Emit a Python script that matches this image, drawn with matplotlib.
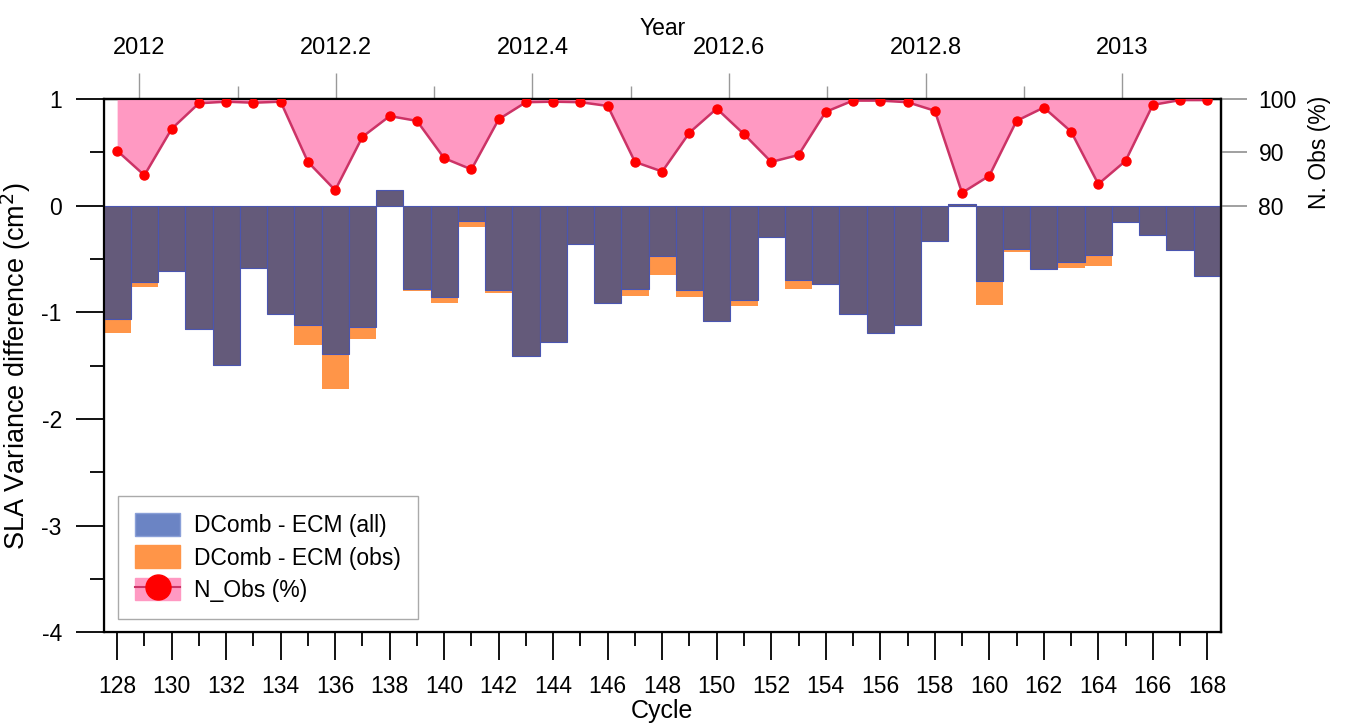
#!/usr/bin/env python3
"""SLA variance difference per cycle, with N_Obs (%) on top."""

import matplotlib
matplotlib.use('Agg')
import matplotlib.pyplot as plt
from matplotlib.patches import Patch
from matplotlib.lines import Line2D
from matplotlib.ticker import MultipleLocator, FixedLocator, FuncFormatter

plt.rcParams['font.family'] = ['Liberation Sans', 'DejaVu Sans']
plt.rcParams['font.size'] = 16.5
plt.rcParams['axes.unicode_minus'] = False

# data
cycles = list(range(128, 169))
diff_all = [-1.06, -0.72, -0.61, -1.16, -1.49, -0.58, -1.02, -1.12, -1.39, -1.14,
            0.15, -0.78, -0.86, -0.14, -0.79, -1.41, -1.28, -0.36, -0.91, -0.785,
            -0.47, -0.79, -1.08, -0.885, -0.29, -0.70, -0.73, -1.015, -1.195, -1.12,
            -0.335, 0.02, -0.71, -0.41, -0.59, -0.53, -0.465, -0.15, -0.275, -0.42,
            -0.66]
diff_obs = [-1.19, -0.76, -0.61, -1.17, -1.50, -0.58, -1.02, -1.31, -1.72, -1.25,
            0.14, -0.80, -0.91, -0.20, -0.82, -1.42, -1.28, -0.37, -0.91, -0.85,
            -0.65, -0.86, -1.09, -0.945, -0.28, -0.78, -0.745, -1.01, -1.19, -1.125,
            -0.33, 0.02, -0.93, -0.43, -0.59, -0.58, -0.57, -0.14, -0.27, -0.41,
            -0.66]
n_obs = [90.3, 85.7, 94.4, 99.2, 99.5, 99.3, 99.5, 88.2, 82.9, 92.9,
         96.8, 95.9, 88.9, 86.8, 96.2, 99.4, 99.5, 99.4, 98.7, 88.2,
         86.4, 93.7, 98.2, 93.4, 88.2, 89.5, 97.6, 99.7, 99.7, 99.4,
         97.8, 82.4, 85.6, 95.9, 98.4, 93.9, 84.05, 88.4, 98.9, 99.8,
         99.8]
year_ticks = [2012, 2012.2, 2012.4, 2012.6, 2012.8, 2013]
year_minor = [2012.1, 2012.3, 2012.5, 2012.7, 2012.9]
nobs_ticks = [80, 90, 100]

# cycle <-> year
CYC0 = 128.82
CYC_PER_YEAR = 36.05


def cyc2year(c):
    return 2012 + (c - CYC0) / CYC_PER_YEAR


def year2cyc(y):
    return CYC0 + (y - 2012) * CYC_PER_YEAR


col_all = '#645a7a'
col_all_leg = '#6b84c4'
col_obs = '#ff9548'
col_pink = '#ff99c2'
col_line = '#cc3366'

fig = plt.figure(figsize=(13.46, 7.27), dpi=100)
ax = fig.add_axes([0.0769, 0.1303, 0.8302, 0.7335])

ax.bar(cycles, diff_obs, width=1.0, color=col_obs, linewidth=0, zorder=2)
ax.bar(cycles, diff_all, width=1.0, color=col_all, edgecolor='#4a55b0',
       linewidth=0.8, zorder=3)

ax.set_xlim(127.5, 168.5)
ax.set_ylim(-4, 1)
ax.xaxis.set_major_locator(MultipleLocator(2))
ax.xaxis.set_minor_locator(MultipleLocator(1))
ax.yaxis.set_major_locator(MultipleLocator(1))
ax.yaxis.set_minor_locator(MultipleLocator(0.5))
ax.tick_params(axis='both', which='major', direction='out', length=20, width=1.3)
ax.tick_params(axis='both', which='minor', direction='out', length=10, width=1.3)
ax.tick_params(axis='x', which='major', pad=11)
ax.tick_params(axis='y', which='major', pad=10)
ax.tick_params(top=False, right=False, which='both')
for s in ax.spines.values():
    s.set_linewidth(1.6)
    s.set_color('black')
ax.set_xlabel('Cycle', fontsize=18)
ax.xaxis.set_label_coords(0.5, -0.125)
ax.set_ylabel('SLA Variance difference (cm$^2$)', fontsize=19.5)
ax.yaxis.set_label_coords(-0.063, 0.5)

# N_Obs on right axis
ax2 = ax.twinx()
ax2.set_ylim(0, 100)
ax2.fill_between(cycles, n_obs, 100, color=col_pink, linewidth=0, zorder=1)
ax2.plot(cycles, n_obs, color=col_line, linewidth=1.8, marker='o',
         markersize=6.5, markerfacecolor='red', markeredgecolor='red', zorder=3)
ax2.yaxis.set_major_locator(FixedLocator(nobs_ticks))
ax2.tick_params(axis='y', direction='out', length=19, width=1.3,
                color='#999999', pad=8)
ax2.spines['right'].set_linewidth(1.6)
ax2.text(1.0886, 0.90, 'N. Obs (%)', rotation=90, ha='center', va='center',
         transform=ax.transAxes)
ax2.set_xlim(127.5, 168.5)

# Year on top axis
top = ax.secondary_xaxis('top', functions=(cyc2year, year2cyc))
top.xaxis.set_major_locator(FixedLocator(year_ticks))
top.xaxis.set_minor_locator(FixedLocator(year_minor))
top.xaxis.set_major_formatter(FuncFormatter(lambda v, p: f'{v:g}'))
top.tick_params(which='major', direction='out', length=19, width=1.0,
                color='#999999', pad=10, labelsize=17)
top.tick_params(which='minor', direction='out', length=9.5, width=1.0,
                color='#999999')
top.spines['top'].set_linewidth(1.6)
top.set_xlabel('Year', labelpad=1)

handles = [Patch(facecolor=col_all_leg, edgecolor='#8aa0d8'),
           Patch(facecolor=col_obs, edgecolor=col_obs),
           (Patch(facecolor=col_pink, edgecolor=col_pink),
            Line2D([], [], color=col_line, marker='o', markersize=18,
                   markerfacecolor='red', markeredgecolor='red'))]
labels = ['DComb - ECM (all)', 'DComb - ECM (obs)', 'N_Obs (%)']
leg = ax.legend(handles, labels, loc='lower left', bbox_to_anchor=(0.013, 0.025),
                borderaxespad=0, fancybox=False, framealpha=1, edgecolor='#aaaaaa',
                handlelength=1.95, handleheight=1.15, labelspacing=0.35,
                borderpad=0.75, handletextpad=0.6, fontsize=16.5)
leg.get_frame().set_linewidth(1.0)
leg.set_zorder(10)

plt.savefig('out.png', dpi=100)
plt.close()
